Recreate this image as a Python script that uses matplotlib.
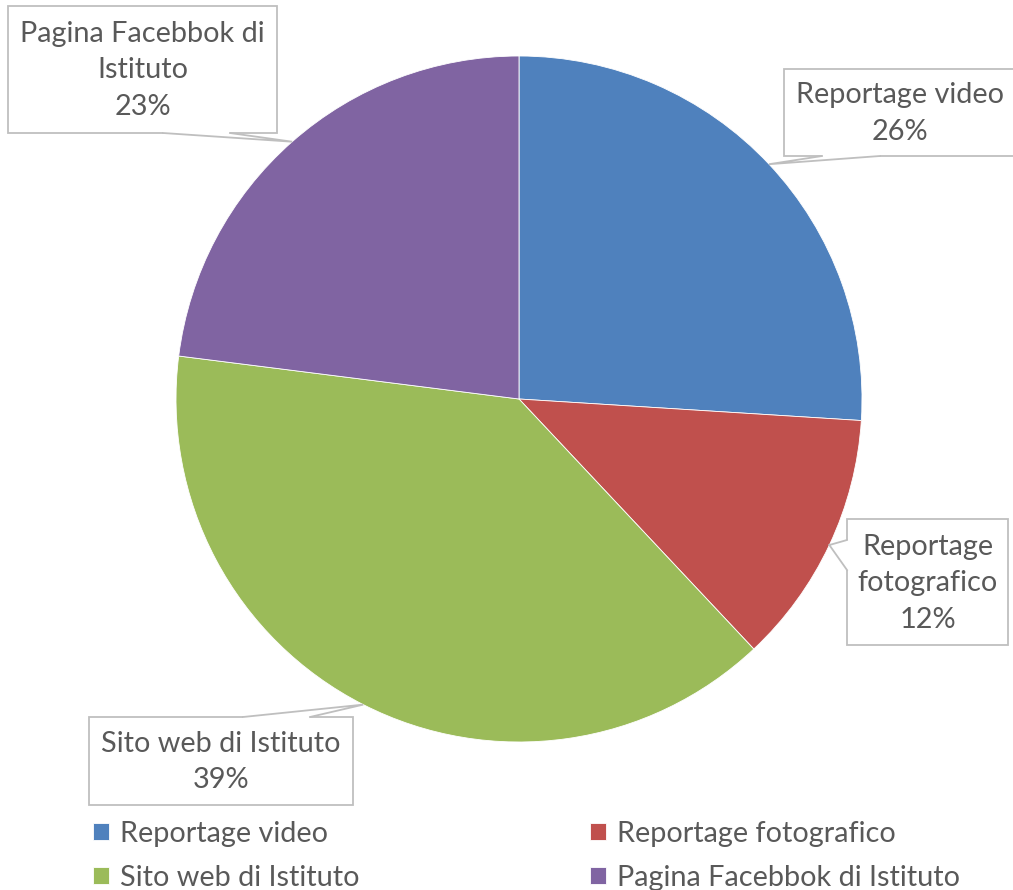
import numpy as np
import matplotlib
matplotlib.use("Agg")
import matplotlib.pyplot as plt
from matplotlib.patches import Rectangle, Polygon

categories = ["Reportage video", "Reportage fotografico", "Sito web di Istituto", "Pagina Facebbok di Istituto"]
box_names = ["Reportage video", "Reportage\nfotografico", "Sito web di Istituto", "Pagina Facebbok di\nIstituto"]
values = [26, 12, 39, 23]
colors = ["#4F81BD", "#C0504D", "#9BBB59", "#8064A2"]

# callout boxes: left, top, right, bottom in pixels (origin top-left)
boxes = [(784, 69, 1016, 156), (847, 519, 1008, 645), (89, 717, 353, 805), (8, 6, 277, 133)]
# which edge the tail leaves from, and the span along that edge (pixels)
tails = [("bottom", 822, 880), ("left", 540, 570), ("top", 243, 310), ("bottom", 163, 230)]

W, H = 1013, 890
plt.rcParams["font.family"] = ["Lato", "DejaVu Sans"]
txt_color = "#595959"
edge_color = "#BFBFBF"
fs = 20.8

fig = plt.figure(figsize=(W / 100, H / 100), dpi=100)
ax = fig.add_axes([0, 0, 1, 1])

cx, cy, r = 519, H - 399, 343
wedges, _ = ax.pie(values, colors=colors, startangle=90, counterclock=False,
                   center=(cx, cy), radius=r, frame=True,
                   wedgeprops=dict(edgecolor="white", linewidth=0.6))
ax.set_xlim(0, W)
ax.set_ylim(0, H)
ax.set_aspect("equal")
ax.axis("off")

for w, name, v, (l, t, rr, b), (side, s0, s1) in zip(wedges, box_names, values, boxes, tails):
    mid = np.deg2rad((w.theta1 + w.theta2) / 2)
    tip = (cx + r * np.cos(mid), cy + r * np.sin(mid))
    ax.add_patch(Rectangle((l, H - b), rr - l, b - t, fc="white", ec=edge_color,
                           lw=1.3, zorder=3))
    if side == "bottom":
        p0, p1 = (s0, H - b), (s1, H - b)
        q0, q1 = (s0, H - b + 2), (s1, H - b + 2)
    elif side == "top":
        p0, p1 = (s0, H - t), (s1, H - t)
        q0, q1 = (s0, H - t - 2), (s1, H - t - 2)
    else:
        p0, p1 = (l, H - s0), (l, H - s1)
        q0, q1 = (l + 2, H - s0), (l + 2, H - s1)
    ax.add_patch(Polygon([q0, p0, tip, p1, q1], closed=True, fc="white", ec="none", zorder=4))
    ax.plot([p0[0], tip[0], p1[0]], [p0[1], tip[1], p1[1]], color=edge_color,
            lw=1.3, zorder=4.5, solid_joinstyle="miter")
    ax.text((l + rr) / 2, H - (t + b) / 2 - 1,
            f"{name}\n{v}%", ha="center", va="center", fontsize=fs,
            color=txt_color, linespacing=1.5, zorder=5)

# matplotlib fills legend columns first, so interleave to get the row order
order = [0, 2, 1, 3]
leg = ax.legend([wedges[i] for i in order], [categories[i] for i in order], ncol=2,
                loc="upper left", bbox_to_anchor=(93 / W, 1 - 821 / H),
                bbox_transform=fig.transFigure, frameon=False, fontsize=fs,
                handlelength=0.55, handleheight=0.55, handletextpad=0.4,
                columnspacing=7.95, labelspacing=0.62, borderaxespad=0, borderpad=0)
for txt in leg.get_texts():
    txt.set_color(txt_color)

fig.savefig("out.png", dpi=100)
